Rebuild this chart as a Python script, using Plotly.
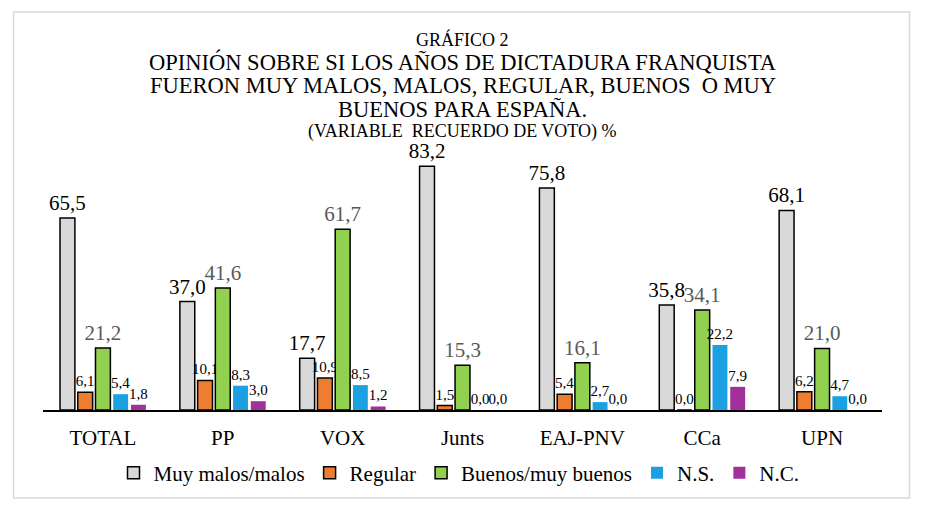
import plotly.graph_objects as go

categories = ["TOTAL", "PP", "VOX", "Junts", "EAJ-PNV", "CCa", "UPN"]
malos = [65.5, 37.0, 17.7, 83.2, 75.8, 35.8, 68.1]
regular = [6.1, 10.1, 10.9, 1.5, 5.4, 0.0, 6.2]
buenos = [21.2, 41.6, 61.7, 15.3, 16.1, 34.1, 21.0]
ns = [5.4, 8.3, 8.5, 0.0, 2.7, 22.2, 4.7]
nc = [1.8, 3.0, 1.2, 0.0, 0.0, 7.9, 0.0]

FONT = "Liberation Serif, Times New Roman, serif"
W, H = 927, 514
OFF = 8  # page offset of the figure (body margin)
# desired plot area in page pixels
X0, X1, Y0, Y1 = 42.5, 882.5, 140, 410
L, R = X0 - OFF, W - (X1 - OFF)
T, B = Y0 - OFF, H - (Y1 - OFF)
PW, PH = X1 - X0, Y1 - Y0

def px(x):
    return (x - X0) / PW

def py(y):
    return (Y1 - y) / PH

series = [
    ("Muy malos/malos", malos, "#D9D9D9", 1.5, 21, "#000000"),
    ("Regular", regular, "#ED7D31", 1.5, 15, "#000000"),
    ("Buenos/muy buenos", buenos, "#92D050", 1.5, 21, "#595959"),
    ("N.S.", ns, "#1BA1E2", 0, 15, "#000000"),
    ("N.C.", nc, "#A0309A", 0, 15, "#000000"),
]

fig = go.Figure()
for name, vals, col, lw, fs, tc in series:
    fig.add_trace(go.Bar(
        x=categories, y=vals, name=name,
        marker=dict(color=col, line=dict(color="#000000", width=lw)),
        texttemplate="%{y:.1f}", textposition="outside",
        textfont=dict(family=FONT, size=fs, color=tc),
        constraintext="none", cliponaxis=False,
    ))

title_lines = [
    ("GRÁFICO 2", 40, 18),
    ("OPINIÓN SOBRE SI LOS AÑOS DE DICTADURA FRANQUISTA", 62, 22.5),
    ("FUERON MUY MALOS, MALOS, REGULAR, BUENOS  O MUY", 85, 22.5),
    ("BUENOS PARA ESPAÑA.", 110, 22.5),
    ("(VARIABLE  RECUERDO DE VOTO) %", 132, 18),
]
annotations = []
for txt, ypix, fs in title_lines:
    annotations.append(dict(
        text=txt, x=px(463), y=py(ypix), xref="paper", yref="paper",
        showarrow=False, xanchor="center", yanchor="middle",
        font=dict(family=FONT, size=fs, color="#000000"),
    ))

fig.update_layout(
    width=W, height=H,
    margin=dict(l=L, r=R, t=T, b=B, pad=0),
    paper_bgcolor="white", plot_bgcolor="white",
    separators=",.",
    barmode="group", bargap=0.26, bargroupgap=0.16,
    showlegend=True,
    legend=dict(orientation="h", x=px(459), xanchor="center", y=py(473), yanchor="middle",
                font=dict(family=FONT, size=21, color="#000000"),
                itemwidth=30, tracegroupgap=0, traceorder="normal"),
    xaxis=dict(showline=True, linecolor="#000000", linewidth=1.5, ticks="",
               tickfont=dict(family=FONT, size=21, color="#000000"), showgrid=False,
               ticklabelstandoff=8),
    yaxis=dict(range=[0, (Y1 - Y0) / 2.93], visible=False, showgrid=False, zeroline=False),
    annotations=annotations,
    shapes=[dict(type="rect", xref="paper", yref="paper",
                 x0=px(13), x1=px(910), y0=py(498), y1=py(12),
                 line=dict(color="#D9D9D9", width=1.5), fillcolor="rgba(0,0,0,0)", layer="below")],
)

fig.write_html("out.html")
